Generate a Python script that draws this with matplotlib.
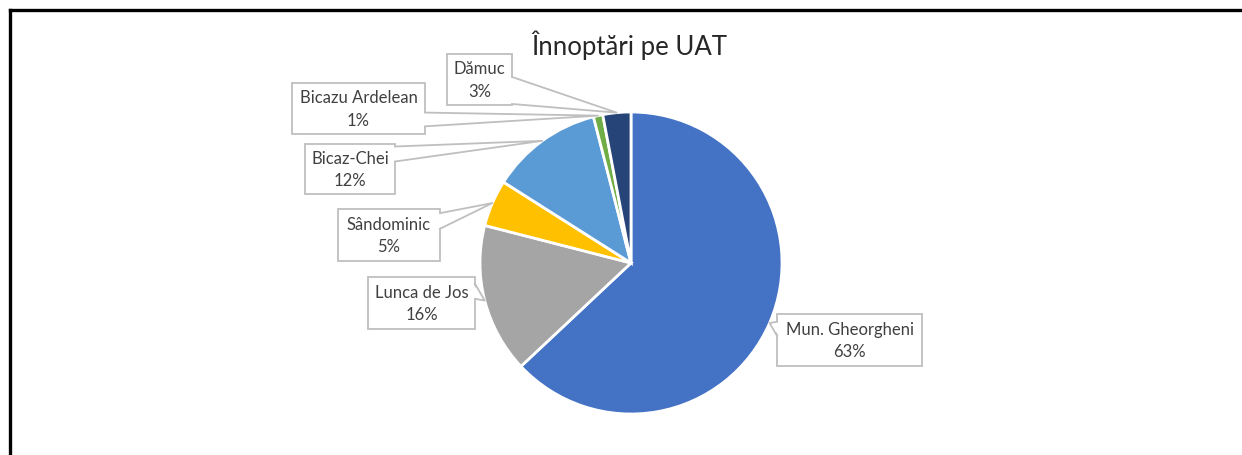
import numpy as np
import matplotlib
matplotlib.use("Agg")
import matplotlib.pyplot as plt
from matplotlib.patches import Rectangle, Polygon

# ---- data ----
categories = ["Mun. Gheorgheni", "Lunca de Jos", "Sândominic", "Bicaz-Chei",
              "Bicazu Ardelean", "Dămuc"]
values = [63, 16, 5, 12, 1, 3]
colors = ["#4472C4", "#A5A5A5", "#FFC000", "#5B9BD5", "#70AD47", "#264478"]
title = "Înnoptări pe UAT"

# ---- layout (pixel coords, y measured from top) ----
W, H = 1242, 456
center_px = (631, 264)
radius_px = 151
# label boxes: x0, x1, y0, y1, side of wedge, base fraction range along side
boxes = {
    "Mun. Gheorgheni": (777, 922, 315, 367, "left", (0.15, 0.42)),
    "Lunca de Jos": (368, 475, 278, 330, "right", (0.13, 0.42)),
    "Sândominic": (338, 440, 210, 262, "right", (0.08, 0.38)),
    "Bicaz-Chei": (305, 395, 145, 195, "right", (0.05, 0.35)),
    "Bicazu Ardelean": (292, 425, 84, 135, "right", (0.58, 0.85)),
    "Dămuc": (447, 512, 55, 106, "right", (0.45, 0.98)),
}

plt.rcParams['font.family'] = ['Lato', 'DejaVu Sans']
fig = plt.figure(figsize=(W / 100, H / 100), dpi=100)
ax = fig.add_axes([0, 0, 1, 1])

def Y(y):
    return H - y

wedges, _ = ax.pie(values, colors=colors, startangle=90, counterclock=False,
                   center=(center_px[0], Y(center_px[1])), radius=radius_px,
                   wedgeprops=dict(edgecolor="white", linewidth=2))
ax.set_xlim(0, W)
ax.set_ylim(0, H)
ax.set_aspect("auto")
ax.axis("off")

# frame (cut at right and bottom)
ax.plot([9.5, 9.5], [-5, Y(11)], color="black", lw=2.4, solid_capstyle="projecting")
ax.plot([9.5, W + 5], [Y(11), Y(11)], color="black", lw=2.4, solid_capstyle="projecting")

ax.text(629, Y(45), title, ha="center", va="center", fontsize=18.5, color="#262626")

edge = "#BFBFBF"
for w, name, v in zip(wedges, categories, values):
    mid = np.deg2rad((w.theta1 + w.theta2) / 2)
    cx, cy = w.center
    ax_, ay_ = cx + w.r * np.cos(mid), cy + w.r * np.sin(mid)
    x0, x1, y0, y1, side, (f0, f1) = boxes[name]
    bx = x1 if side == "right" else x0
    by0 = Y(y0 + f0 * (y1 - y0))
    by1 = Y(y0 + f1 * (y1 - y0))
    ax.add_patch(Rectangle((x0, Y(y1)), x1 - x0, y1 - y0, facecolor="white",
                           edgecolor=edge, lw=1.3, zorder=5))
    inset = -2 if side == "right" else 2
    ax.add_patch(Polygon([(bx + inset, by0), (ax_, ay_), (bx + inset, by1)],
                         closed=True, facecolor="white", edgecolor="none", zorder=6))
    ax.plot([bx, ax_, bx], [by0, ay_, by1], color=edge, lw=1.3, zorder=6)
    ax.text((x0 + x1) / 2, Y((y0 + y1) / 2), f"{name}\n{v}%", ha="center",
            va="center", fontsize=12, color="#404040", linespacing=1.5, zorder=7)

fig.savefig("out.png", dpi=100, facecolor="white")
